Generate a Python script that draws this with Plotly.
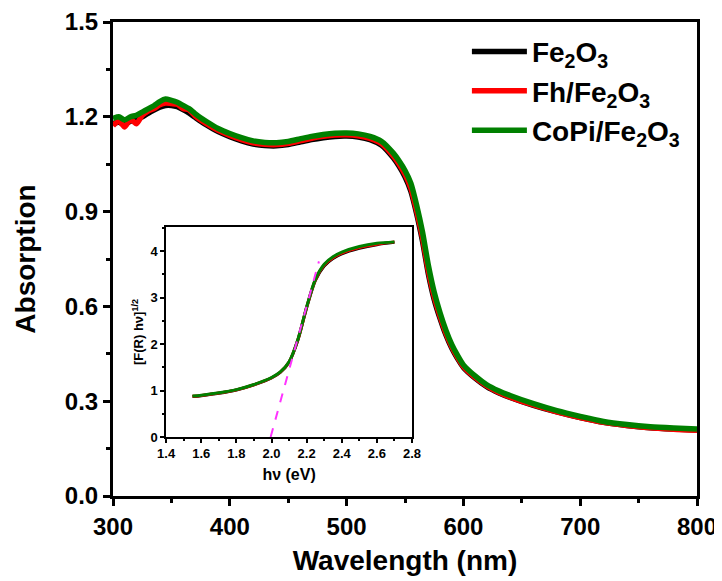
import plotly.graph_objects as go

# ---------------- data ----------------
wavelength = [300, 305, 310, 315, 320, 325, 330, 335, 340, 345, 350, 355, 360, 365, 370, 375, 380,
              390, 400, 410, 420, 430, 440, 450, 460, 470, 480, 490, 500, 510, 520, 530, 540, 545,
              550, 555, 560, 565, 570, 575, 580, 585, 590, 595, 600, 610, 620, 630, 640, 660, 680,
              700, 720, 740, 760, 780, 800]

fe2o3 = [1.178, 1.183, 1.176, 1.186, 1.19, 1.2, 1.211, 1.221, 1.23, 1.236, 1.236, 1.232, 1.223,
         1.212, 1.199, 1.186, 1.174, 1.153, 1.137, 1.124, 1.114, 1.109, 1.108, 1.112, 1.12, 1.128,
         1.134, 1.138, 1.139, 1.136, 1.128, 1.11, 1.07, 1.043, 1.01, 0.965, 0.893, 0.806, 0.703,
         0.622, 0.562, 0.51, 0.468, 0.435, 0.407, 0.373, 0.346, 0.327, 0.312, 0.287, 0.266, 0.248,
         0.233, 0.223, 0.216, 0.212, 0.209]

fh_fe2o3 = [1.172, 1.188, 1.168, 1.192, 1.178, 1.205, 1.218, 1.226, 1.238, 1.244, 1.242, 1.24,
            1.226, 1.222, 1.204, 1.19, 1.178, 1.157, 1.141, 1.128, 1.118, 1.113, 1.112, 1.116,
            1.124, 1.132, 1.138, 1.142, 1.143, 1.14, 1.132, 1.115, 1.076, 1.05, 1.018, 0.974,
            0.902, 0.817, 0.713, 0.631, 0.569, 0.516, 0.473, 0.439, 0.41, 0.375, 0.348, 0.328,
            0.313, 0.288, 0.266, 0.248, 0.233, 0.223, 0.216, 0.211, 0.208]

copi_fe2o3 = [1.195, 1.2, 1.19, 1.2, 1.205, 1.215, 1.225, 1.235, 1.248, 1.256, 1.252, 1.246,
              1.236, 1.226, 1.211, 1.197, 1.185, 1.163, 1.147, 1.134, 1.124, 1.119, 1.118, 1.122,
              1.13, 1.138, 1.144, 1.148, 1.149, 1.146, 1.138, 1.122, 1.085, 1.06, 1.03, 0.99,
              0.92, 0.835, 0.73, 0.645, 0.58, 0.525, 0.48, 0.445, 0.415, 0.38, 0.352, 0.333,
              0.318, 0.292, 0.27, 0.252, 0.236, 0.226, 0.219, 0.215, 0.212]

photon_energy = [1.55, 1.6, 1.7, 1.8, 1.9, 2.0, 2.05, 2.1, 2.15, 2.2, 2.25, 2.3, 2.35, 2.4, 2.5, 2.6, 2.7]
tauc_fe2o3 = [0.87, 0.89, 0.94, 1.01, 1.12, 1.27, 1.39, 1.61, 2.08, 2.78, 3.37, 3.68, 3.84, 3.94, 4.06, 4.14, 4.19]
tauc_fh = [0.875, 0.895, 0.945, 1.015, 1.125, 1.275, 1.395, 1.615, 2.09, 2.79, 3.39, 3.7, 3.86, 3.96, 4.08, 4.15, 4.2]
tauc_copi = [0.88, 0.9, 0.95, 1.02, 1.13, 1.28, 1.4, 1.62, 2.1, 2.8, 3.4, 3.72, 3.88, 3.98, 4.1, 4.17, 4.2]

fit_x = [1.995, 2.27]
fit_y = [0.0, 3.78]

names = ["Fe<sub>2</sub>O<sub>3</sub>", "Fh/Fe<sub>2</sub>O<sub>3</sub>", "CoPi/Fe<sub>2</sub>O<sub>3</sub>"]
colors = ["#000000", "#ff0000", "#008000"]

FONT = "Arial, Liberation Sans, sans-serif"

fig = go.Figure()
for ys, nm, c in zip([fe2o3, fh_fe2o3, copi_fe2o3], names, colors):
    fig.add_trace(go.Scatter(x=wavelength, y=ys, mode="lines", name=nm,
                             line=dict(color=c, width=5.5, shape="spline", smoothing=0.6)))

for ys, c in zip([tauc_fe2o3, tauc_fh, tauc_copi], colors):
    fig.add_trace(go.Scatter(x=photon_energy, y=ys, mode="lines", showlegend=False,
                             xaxis="x2", yaxis="y2",
                             line=dict(color=c, width=3, shape="spline", smoothing=0.8)))

fig.add_trace(go.Scatter(x=fit_x, y=fit_y, mode="lines", showlegend=False, xaxis="x2", yaxis="y2",
                         line=dict(color="#ff33ff", width=2, dash="dash")))


def bold(size):
    return dict(family=FONT, size=size, color="black", weight="bold")


# page body has an 8px default margin, so the figure is drawn 8px in from the top-left
fig.update_layout(
    width=714, height=573,
    margin=dict(l=105, r=25, t=14, b=85),
    paper_bgcolor="white", plot_bgcolor="white",
    font=dict(family=FONT, color="black"),
    xaxis=dict(
        range=[300, 800], tickvals=[300, 400, 500, 600, 700, 800], automargin=False,
        ticks="outside", ticklen=7, tickwidth=3, tickcolor="black",
        minor=dict(dtick=50, ticks="outside", ticklen=4, tickwidth=3, tickcolor="black", showgrid=False),
        showline=True, linewidth=3, linecolor="black", mirror=True, showgrid=False, zeroline=False,
        tickfont=bold(24),
        title=dict(text="Wavelength (nm)", font=bold(28), standoff=12),
    ),
    yaxis=dict(
        range=[0, 1.5], tickvals=[0, 0.3, 0.6, 0.9, 1.2, 1.5], tickformat=".1f", automargin=False,
        ticks="outside", ticklen=7, tickwidth=3, tickcolor="black",
        minor=dict(dtick=0.15, ticks="outside", ticklen=4, tickwidth=3, tickcolor="black", showgrid=False),
        showline=True, linewidth=3, linecolor="black", mirror=True, showgrid=False, zeroline=False,
        tickfont=bold(24),
        title=dict(text="Absorption", font=bold(28), standoff=22),
    ),
    xaxis2=dict(
        domain=[0.091, 0.512], anchor="y2", range=[1.4, 2.8], dtick=0.2, tickformat=".1f",
        automargin=False,
        ticks="outside", ticklen=4, tickwidth=1.5, tickcolor="black",
        minor=dict(dtick=0.1, ticks="outside", ticklen=2.5, tickwidth=1.5, tickcolor="black", showgrid=False),
        showline=True, linewidth=1.5, linecolor="black", mirror=True, showgrid=False, zeroline=False,
        tickfont=bold(13),
        title=dict(text="hν (eV)", font=bold(16), standoff=8),
    ),
    yaxis2=dict(
        domain=[0.1245, 0.5675], anchor="x2", range=[0, 4.52], tickvals=[0, 1, 2, 3, 4],
        automargin=False,
        ticks="outside", ticklen=4, tickwidth=1.5, tickcolor="black",
        minor=dict(dtick=0.5, ticks="outside", ticklen=2.5, tickwidth=1.5, tickcolor="black", showgrid=False),
        showline=True, linewidth=1.5, linecolor="black", mirror=True, showgrid=False, zeroline=False,
        tickfont=bold(13),
        title=dict(text="[F(R) hν]<sup>1/2</sup>", font=bold(13), standoff=4),
    ),
    legend=dict(
        x=0.606, y=0.99, xanchor="left", yanchor="top",
        bgcolor="rgba(0,0,0,0)", borderwidth=0,
        font=bold(28),
        itemwidth=55, tracegroupgap=0,
    ),
)

fig.write_html("out.html")
